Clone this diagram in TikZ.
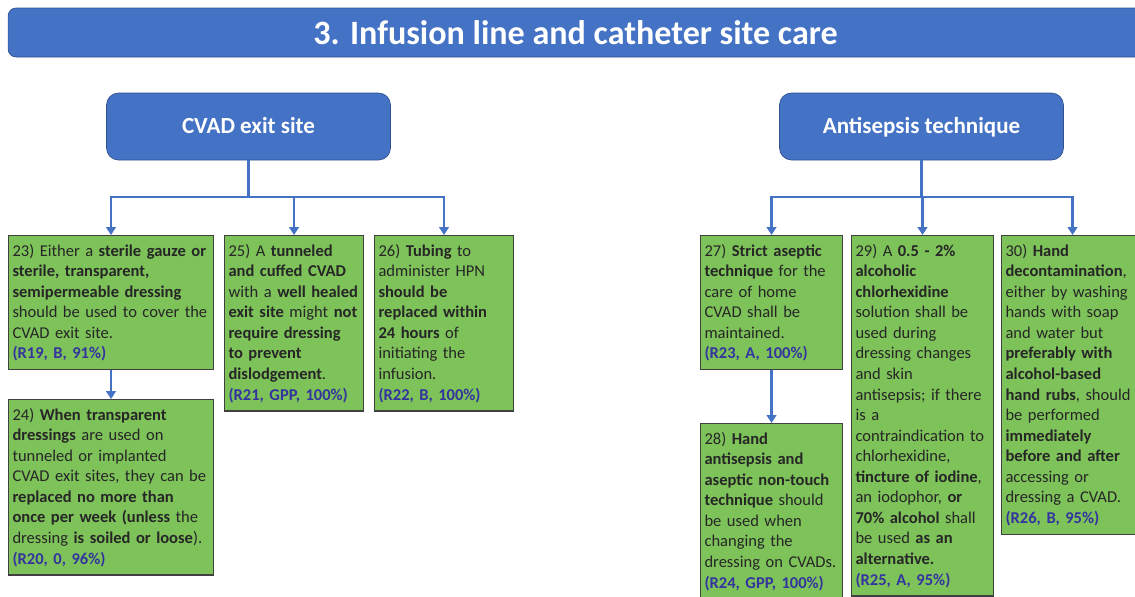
\documentclass[tikz,border=0pt]{standalone}
\usepackage{fontspec}
\setmainfont{Carlito}
\usetikzlibrary{positioning,arrows.meta}
\definecolor{hdblue}{RGB}{68,114,196}
\definecolor{hdedge}{RGB}{47,82,143}
\definecolor{boxgreen}{RGB}{126,194,90}
\definecolor{txtgray}{RGB}{38,38,38}
\definecolor{refblue}{RGB}{52,52,158}
\newcommand{\rnote}[1]{\textcolor{refblue}{\textbf{#1}}}
\tikzset {
    style A/.style={
        fill=hdblue,
        draw=hdedge,
        thin,
        text=white,
        rectangle, % Set the shape as a rectangle
        rounded corners=.16cm,
        minimum width=22.7cm,
        minimum height=.98cm,
        font=\fontsize{19.4}{23}\selectfont\bfseries,
        align=center,
    },
    style B/.style={
        fill=hdblue,
        draw=hdedge,
        thin,
        text=white,
        rectangle, % Set the shape as a rectangle
        rounded corners=.24cm,
        minimum width=5.68cm,
        minimum height=1.34cm,
        text height=.75em,
        text depth=0pt,
        font=\fontsize{13.1}{16}\selectfont\bfseries,
        align=center,
    },
    style C/.style={
        fill=boxgreen,
        draw=black!75,
        line width=.6pt,
        text=txtgray,
        rectangle, % Set the shape as a rectangle
        anchor=north west,
        inner xsep=.08cm,
        inner ysep=.17cm,
        font=\fontsize{9.4}{11.7}\selectfont,
        align=left,
    },
    link/.style={
        draw=hdblue,
        line width=1.5pt,
        -{Triangle[length=4.5pt,width=5.5pt]},
    },
}

\begin{document}
\begin{tikzpicture}[x=.02cm, y=-.02cm]
\useasboundingbox (0,0) rectangle (1135,596);

\node[style A] at (575.5, 32.5) (title) {3. Infusion line and catheter site care};
\node[style B] at (248.5, 126.5) (cvad) {CVAD exit site};
\node[style B] at (921.5, 126.5) (antisep) {Antisepsis technique};

% CVAD exit site
\node[style C, text width=3.94cm] at (8, 235) (gauze) {23) Either a \textbf{sterile gauze or}\\ \textbf{sterile, transparent,}\\ \textbf{semipermeable dressing}\\ should be used to cover the\\ CVAD exit site.\\ \rnote{(R19, B, 91\%)}};
\node[style C, text width=3.94cm] at (8, 399) (transp) {24) \textbf{When transparent}\\ \textbf{dressings} are used on\\ tunneled or implanted\\ CVAD exit sites, they can be\\ \textbf{replaced no more than}\\ \textbf{once per week (unless} the\\ dressing \textbf{is soiled or loose}).\\ \rnote{(R20, 0, 96\%)}};
\node[style C, text width=2.62cm] at (224, 235) (cuffed) {25) A \textbf{tunneled}\\ \textbf{and cuffed CVAD}\\ with a \textbf{well healed}\\ \textbf{exit site} might \textbf{not}\\ \textbf{require dressing}\\ \textbf{to prevent}\\ \textbf{dislodgement}.\\ \rnote{(R21, GPP, 100\%)}};
\node[style C, text width=2.62cm] at (374, 235) (tubing) {26) \textbf{Tubing} to\\ administer HPN\\ \textbf{should be}\\ \textbf{replaced within}\\ \textbf{24 hours} of\\ initiating the\\ infusion.\\ \rnote{(R22, B, 100\%)}};

% Antisepsis technique
\node[style C, text width=2.68cm] at (700, 235) (aseptic) {27) \textbf{Strict aseptic}\\ \textbf{technique} for the\\ care of home\\ CVAD shall be\\ maintained.\\ \rnote{(R23, A, 100\%)}};
\node[style C, text width=2.68cm] at (700, 423) (handAnti) {28) \textbf{Hand}\\ \textbf{antisepsis and}\\ \textbf{aseptic non-touch}\\ \textbf{technique} should\\ be used when\\ changing the\\ dressing on CVADs.\\ \rnote{(R24, GPP, 100\%)}};
\node[style C, text width=2.68cm] at (851, 235) (chlorhex) {29) A \textbf{0.5 - 2\%}\\ \textbf{alcoholic}\\ \textbf{chlorhexidine}\\ solution shall be\\ used during\\ dressing changes\\ and skin\\ antisepsis; if there\\ is a\\ contraindication to\\ chlorhexidine,\\ \textbf{tincture of iodine},\\ an iodophor, \textbf{or}\\ \textbf{70\% alcohol} shall\\ be used \textbf{as an}\\ \textbf{alternative.}\\ \rnote{(R25, A, 95\%)}};
\node[style C, text width=2.68cm] at (1001, 235) (handDecon) {30) \textbf{Hand}\\ \textbf{decontamination},\\ either by washing\\ hands with soap\\ and water but\\ \textbf{preferably with}\\ \textbf{alcohol-based}\\ \textbf{hand rubs}, should\\ be performed\\ \textbf{immediately}\\ \textbf{before and after}\\ accessing or\\ dressing a CVAD.\\ \rnote{(R26, B, 95\%)}};

\coordinate (cvadFork) at (248.5, 197);
\coordinate (antiFork) at (921.5, 197);

\draw[link] (cvad.south) -- (cvadFork) -| (gauze.north);
\draw[link] (cvad.south) -- (cvadFork) -| (cuffed.north);
\draw[link] (cvad.south) -- (cvadFork) -| (tubing.north);
\draw[link] (gauze.south) -- (transp.north);
\draw[link] (antisep.south) -- (antiFork) -| (aseptic.north);
\draw[link] (antisep.south) -- (antiFork) -| (chlorhex.north);
\draw[link] (antisep.south) -- (antiFork) -| (handDecon.north);
\draw[link] (aseptic.south) -- (handAnti.north);
\end{tikzpicture}
\end{document}
